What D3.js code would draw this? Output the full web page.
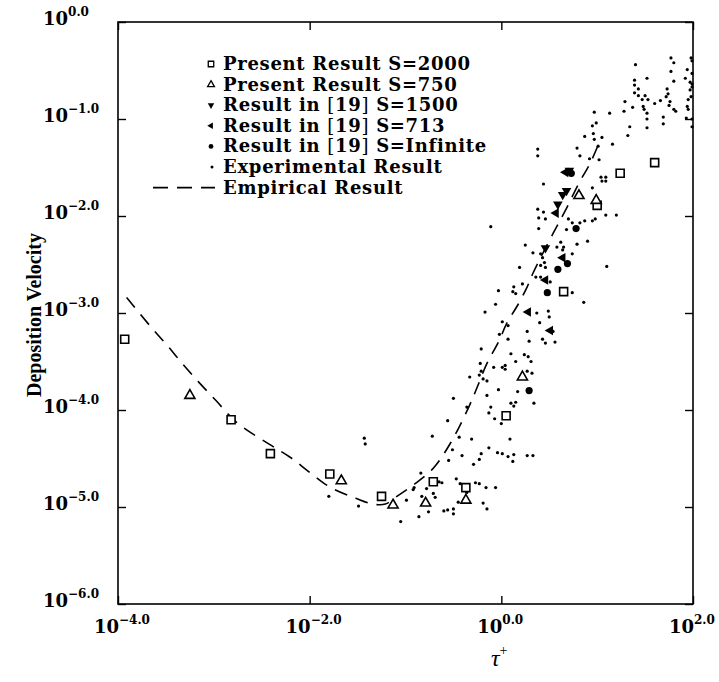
<!DOCTYPE html>
<html>
<head>
<meta charset="utf-8">
<script src="https://cdn.jsdelivr.net/npm/d3@7/dist/d3.min.js"></script>
<style>
  html, body { margin: 0; padding: 0; background: #fff; }
  svg { display: block; }
</style>
</head>
<body>
<svg id="chart" width="719" height="682"></svg>
<script>
// Every point is stored as decade exponents: [log10(τ+), log10(deposition velocity)]

const presentS2000 = [
  [-3.93, -3.27], [-2.82, -4.10], [-2.41, -4.45], [-1.79, -4.66], [-1.25, -4.89],
  [-0.71, -4.74], [-0.37, -4.80], [0.05, -4.06], [0.65, -2.78], [1.00, -1.89],
  [1.24, -1.56], [1.60, -1.45]
];

const presentS750 = [
  [-3.25, -3.85], [-1.67, -4.73], [-1.13, -4.98], [-0.79, -4.96], [-0.37, -4.93],
  [0.22, -3.66], [0.81, -1.79], [0.99, -1.84]
];

const ref19S1500 = [
  [0.71, -1.53], [0.68, -1.74], [0.64, -1.78], [0.59, -1.88], [0.46, -2.33]
];

const ref19S713 = [
  [0.67, -1.55], [0.57, -1.97], [0.64, -2.43], [0.46, -2.66], [0.28, -2.99], [0.51, -3.18]
];

const ref19SInfinite = [
  [0.73, -1.56], [0.78, -2.13], [0.69, -2.49], [0.59, -2.55], [0.48, -2.79], [0.29, -3.80]
];

const experimental = [
  [1.40, -0.44], [1.77, -0.37], [1.80, -0.42], [1.98, -0.37], [1.99, -0.40],
  [1.52, -0.58], [1.77, -0.51], [1.80, -0.61], [1.94, -0.49], [1.99, -0.53],
  [1.92, -0.58], [1.97, -0.62], [1.99, -0.64], [1.39, -0.60], [1.39, -0.65],
  [1.43, -0.69], [1.39, -0.73], [1.43, -0.76], [1.47, -0.80], [1.50, -0.76],
  [1.53, -0.80], [1.73, -0.69], [1.74, -0.74], [1.72, -0.77], [1.76, -0.82],
  [1.75, -0.86], [1.80, -0.90], [1.82, -0.92], [1.66, -0.81], [1.60, -0.84],
  [1.48, -0.87], [1.49, -0.90], [1.52, -0.94], [1.52, -1.00], [1.52, -1.09],
  [1.69, -0.98], [1.69, -1.05], [1.94, -0.87], [1.95, -0.90], [1.95, -0.80],
  [1.98, -0.77], [1.97, -0.70], [1.99, -0.67], [1.93, -0.99], [1.99, -1.00],
  [1.99, -1.08], [1.28, -0.92], [1.29, -0.82], [1.37, -0.88], [1.34, -1.08],
  [1.32, -1.17], [1.13, -0.94], [1.16, -1.26], [0.97, -0.93], [0.99, -1.04],
  [0.95, -1.07], [1.05, -1.19], [0.96, -1.15], [0.97, -1.21], [0.87, -1.18],
  [1.01, -1.28], [0.79, -1.30], [0.82, -1.38], [1.02, -1.42], [0.92, -1.41],
  [1.04, -1.60], [1.09, -1.60], [1.05, -1.64], [1.09, -1.64], [1.09, -1.99],
  [1.20, -1.99], [0.38, -1.31], [0.38, -1.38],
  [0.44, -1.67], [0.95, -1.71], [0.38, -1.93], [0.44, -1.96], [0.39, -2.02],
  [0.46, -2.03], [0.39, -2.13], [0.70, -2.03], [0.74, -2.07], [0.82, -2.07],
  [0.87, -2.05], [0.95, -2.05], [0.98, -2.03], [-0.11, -2.11], [0.68, -2.14],
  [0.62, -2.27], [0.65, -2.32], [0.58, -2.32], [0.64, -2.35], [0.79, -2.29],
  [0.90, -2.26], [0.25, -2.30], [0.33, -2.38], [0.41, -2.39], [0.43, -2.43],
  [0.74, -2.39], [0.41, -2.51], [0.46, -2.53], [0.45, -2.48], [0.19, -2.53],
  [1.10, -2.52], [0.36, -2.63], [0.41, -2.63], [0.51, -2.68], [0.22, -2.70],
  [0.13, -2.73], [0.12, -2.78], [0.15, -2.80], [-0.03, -2.77], [0.74, -2.79],
  [-0.06, -2.91], [0.86, -2.89],
  [0.37, -3.00], [0.49, -2.98], [0.50, -3.04], [0.40, -3.10], [0.54, -3.19],
  [-0.17, -2.99], [0.01, -3.09], [0.07, -3.13], [-0.02, -3.22], [0.07, -3.27],
  [0.27, -3.19], [0.29, -3.29], [0.43, -3.27], [0.46, -3.31], [0.56, -3.30],
  [-0.21, -3.37], [0.10, -3.42], [0.15, -3.50], [0.24, -3.43], [0.28, -3.45],
  [0.31, -3.50], [-0.22, -3.52], [-0.21, -3.60], [-0.08, -3.56], [0.01, -3.56],
  [0.04, -3.58], [0.04, -3.54], [-0.33, -3.66], [-0.23, -3.64], [-0.19, -3.68],
  [-0.15, -3.70], [-0.15, -3.85], [-0.03, -3.79], [0.17, -3.81], [0.27, -3.60],
  [0.32, -3.62], [-0.50, -3.88], [-0.36, -3.97], [-0.11, -3.97], [-0.13, -4.03],
  [-0.07, -4.09], [0.10, -3.93], [0.15, -3.92], [0.13, -3.96], [0.34, -3.93],
  [0.00, -4.14], [-0.56, -4.11], [-0.44, -4.28], [-0.72, -4.27], [-0.31, -4.30],
  [0.09, -4.30], [-0.51, -4.41], [-0.41, -4.47], [-0.55, -4.52], [-0.21, -4.45],
  [-0.13, -4.39], [-0.23, -4.51], [-0.29, -4.56], [-0.04, -4.44], [0.01, -4.45],
  [0.07, -4.48], [0.13, -4.46], [0.12, -4.53], [0.27, -4.47], [0.33, -4.47],
  [-0.84, -4.65], [-0.91, -4.80], [-0.78, -4.81], [-0.65, -4.74], [-0.62, -4.75],
  [-0.47, -4.71], [-0.43, -4.76], [-0.27, -4.75], [-0.23, -4.76], [-0.16, -4.80],
  [-0.06, -4.80], [-0.36, -4.85], [-0.83, -4.89], [-0.71, -4.86], [-0.99, -4.93],
  [-0.45, -4.95], [-0.19, -4.96], [-0.15, -5.02], [-0.56, -5.03], [-0.60, -5.04],
  [-0.50, -5.02], [-0.76, -5.05], [-0.86, -5.10], [-0.50, -5.07], [-1.43, -4.29],
  [-1.42, -4.35], [-1.80, -4.89], [-1.49, -4.99], [-0.92, -4.82], [-0.69, -4.90],
  [-1.05, -5.15]
];

const empirical = [
  [-3.91, -2.84], [-3.66, -3.14], [-3.49, -3.33], [-3.33, -3.52], [-3.16, -3.71],
  [-2.98, -3.90], [-2.76, -4.13], [-2.41, -4.36], [-2.20, -4.49], [-1.99, -4.65],
  [-1.78, -4.80], [-1.52, -4.91], [-1.34, -4.97], [-1.21, -4.97], [-1.09, -4.89],
  [-0.90, -4.76], [-0.71, -4.60], [-0.53, -4.34], [-0.34, -3.97], [-0.25, -3.76],
  [-0.15, -3.52], [-0.03, -3.30], [0.06, -3.10], [0.17, -2.92], [0.27, -2.73],
  [0.33, -2.59], [0.54, -2.18], [0.67, -1.94], [0.80, -1.68], [0.93, -1.45],
  [1.01, -1.27]
];

const xTickExps = [-4, -2, 0, 2];
const yTickExps = [0, -1, -2, -3, -4, -5, -6];

const legendItems = [
  { key: "square",   text: ["Present Result S=2000"] },
  { key: "triangle", text: ["Present Result S=750"] },
  { key: "down",     text: ["Result in ", "[", "19", "]", " S=1500"] },
  { key: "left",     text: ["Result in ", "[", "19", "]", " S=713"] },
  { key: "filled",   text: ["Result in ", "[", "19", "]", " S=Infinite"] },
  { key: "dot",      text: ["Experimental Result"] },
  { key: "dash",     text: ["Empirical Result"] }
];

// ---- layout ----
const svg = d3.select("#chart");
const frame = { left: 118, right: 693, top: 22, bottom: 604 };
const serif = "'DejaVu Serif', 'Liberation Serif', serif";

const x = d3.scaleLog().domain([1e-4, 1e2]).range([frame.left, frame.right]);
const y = d3.scaleLog().domain([1e-6, 1]).range([frame.bottom, frame.top]);
const px = d => x(Math.pow(10, d[0]));
const py = d => y(Math.pow(10, d[1]));

svg.append("rect").attr("width", 719).attr("height", 682).attr("fill", "#fff");

// ---- inward ticks on all four sides ----
const tick = 8;
const innerX = xTickExps.map(e => Math.pow(10, e));
const innerY = yTickExps.map(e => Math.pow(10, e));
const axes = [
  [d3.axisBottom(x).tickValues(innerX).tickSize(-tick), `translate(0,${frame.bottom})`],
  [d3.axisTop(x).tickValues(innerX).tickSize(-tick), `translate(0,${frame.top})`],
  [d3.axisLeft(y).tickValues(innerY).tickSize(-tick), `translate(${frame.left},0)`],
  [d3.axisRight(y).tickValues(innerY).tickSize(-tick), `translate(${frame.right},0)`]
];
axes.forEach(([ax, tr]) => {
  const g = svg.append("g").attr("transform", tr).call(ax.tickFormat(""));
  g.select(".domain").remove();
  g.selectAll("line").attr("stroke", "#000").attr("stroke-width", 1.4);
});

svg.append("rect")
  .attr("x", frame.left).attr("y", frame.top)
  .attr("width", frame.right - frame.left).attr("height", frame.bottom - frame.top)
  .attr("fill", "none").attr("stroke", "#000").attr("stroke-width", 1.6);

// ---- tick labels: "10" with a superscript exponent ----
const expText = e => (e < 0 ? "\u2212" : "") + Math.abs(e).toFixed(1);

// x labels: the base ends at the tick, the exponent starts there
const xLab = svg.append("g").selectAll("g").data(xTickExps).join("g")
  .attr("font-family", serif).attr("font-weight", "bold");
xLab.append("text")
  .attr("x", e => x(Math.pow(10, e)) + 1).attr("y", 633)
  .attr("text-anchor", "end").attr("font-size", 18).text("10");
xLab.append("text")
  .attr("x", e => x(Math.pow(10, e)) + 1).attr("y", 624)
  .attr("font-size", 12).text(expText);

svg.append("g").selectAll("text").data(yTickExps).join("text")
  .attr("font-family", serif).attr("font-weight", "bold")
  .attr("y", e => y(Math.pow(10, e)) + 3)
  .each(function (e) {
    const t = d3.select(this);
    t.append("tspan").attr("x", 43).attr("font-size", 18).text("10");
    t.append("tspan").attr("font-size", 12).attr("dy", -9).text(expText(e));
  });

// ---- axis titles ----
svg.append("text")
  .attr("transform", `translate(41,${(frame.top + frame.bottom) / 2 + 2}) rotate(-90)`)
  .attr("text-anchor", "middle")
  .attr("font-family", "'Liberation Serif', 'DejaVu Serif', serif")
  .attr("font-weight", "bold").attr("font-size", 20)
  .text("Deposition Velocity");

const xt = svg.append("text")
  .attr("x", 491).attr("y", 666)
  .attr("font-family", "'Liberation Serif', serif").attr("font-size", 24);
xt.append("tspan").attr("font-style", "italic").text("\u03C4");
xt.append("tspan").attr("font-size", 14).attr("dy", -11).text("+");

// ---- marker helpers ----
const sym = (type, size) => d3.symbol().type(type).size(size)();
const plot = svg.append("g");

// empirical curve
plot.append("path")
  .datum(empirical)
  .attr("d", d3.line().x(px).y(py).curve(d3.curveCatmullRom.alpha(0.5)))
  .attr("fill", "none").attr("stroke", "#000").attr("stroke-width", 1.6)
  .attr("stroke-dasharray", "13,9");

// experimental dots
plot.append("g").selectAll("circle").data(experimental).join("circle")
  .attr("cx", px).attr("cy", py).attr("r", 1.6).attr("fill", "#000");

// present results
plot.append("g").selectAll("path").data(presentS2000).join("path")
  .attr("transform", d => `translate(${px(d)},${py(d)})`)
  .attr("d", sym(d3.symbolSquare, 64))
  .attr("fill", "#fff").attr("stroke", "#000").attr("stroke-width", 1.6);

plot.append("g").selectAll("path").data(presentS750).join("path")
  .attr("transform", d => `translate(${px(d)},${py(d)})`)
  .attr("d", sym(d3.symbolTriangle, 44))
  .attr("fill", "#fff").attr("stroke", "#000").attr("stroke-width", 1.6);

// results from reference [19]
plot.append("g").selectAll("path").data(ref19S1500).join("path")
  .attr("transform", d => `translate(${px(d)},${py(d)}) rotate(180)`)
  .attr("d", sym(d3.symbolTriangle, 40)).attr("fill", "#000");

plot.append("g").selectAll("path").data(ref19S713).join("path")
  .attr("transform", d => `translate(${px(d)},${py(d)}) rotate(-90)`)
  .attr("d", sym(d3.symbolTriangle, 40)).attr("fill", "#000");

plot.append("g").selectAll("circle").data(ref19SInfinite).join("circle")
  .attr("cx", px).attr("cy", py).attr("r", 3.6).attr("fill", "#000");

// ---- legend ----
const legend = svg.append("g");
const lgX = 211, lgTextX = 223, lgY0 = 64, lgStep = 20.6;

legendItems.forEach((item, i) => {
  const cy = lgY0 + i * lgStep;
  const g = legend.append("g");
  switch (item.key) {
    case "square":
      g.append("path").attr("transform", `translate(${lgX},${cy})`)
        .attr("d", sym(d3.symbolSquare, 30))
        .attr("fill", "#fff").attr("stroke", "#000").attr("stroke-width", 1.3);
      break;
    case "triangle":
      g.append("path").attr("transform", `translate(${lgX},${cy})`)
        .attr("d", sym(d3.symbolTriangle, 20))
        .attr("fill", "#fff").attr("stroke", "#000").attr("stroke-width", 1.3);
      break;
    case "down":
      g.append("path").attr("transform", `translate(${lgX},${cy}) rotate(180)`)
        .attr("d", sym(d3.symbolTriangle, 18)).attr("fill", "#000");
      break;
    case "left":
      g.append("path").attr("transform", `translate(${lgX},${cy}) rotate(-90)`)
        .attr("d", sym(d3.symbolTriangle, 18)).attr("fill", "#000");
      break;
    case "filled":
      g.append("circle").attr("cx", lgX).attr("cy", cy).attr("r", 2.4).attr("fill", "#000");
      break;
    case "dot":
      g.append("circle").attr("cx", lgX + 1).attr("cy", cy).attr("r", 1.5).attr("fill", "#000");
      break;
    case "dash":
      g.append("line").attr("x1", 153).attr("x2", 215).attr("y1", cy).attr("y2", cy)
        .attr("stroke", "#000").attr("stroke-width", 1.6).attr("stroke-dasharray", "15,9");
      break;
  }
  const t = g.append("text").attr("x", lgTextX).attr("y", cy + 6)
    .attr("font-family", serif).attr("font-weight", "bold").attr("font-size", 18)
    .attr("letter-spacing", 0.7);
  item.text.forEach(s => {
    const span = t.append("tspan").text(s);
    if (s === "[" || s === "]") span.attr("font-weight", "normal");
  });
});
</script>
</body>
</html>
